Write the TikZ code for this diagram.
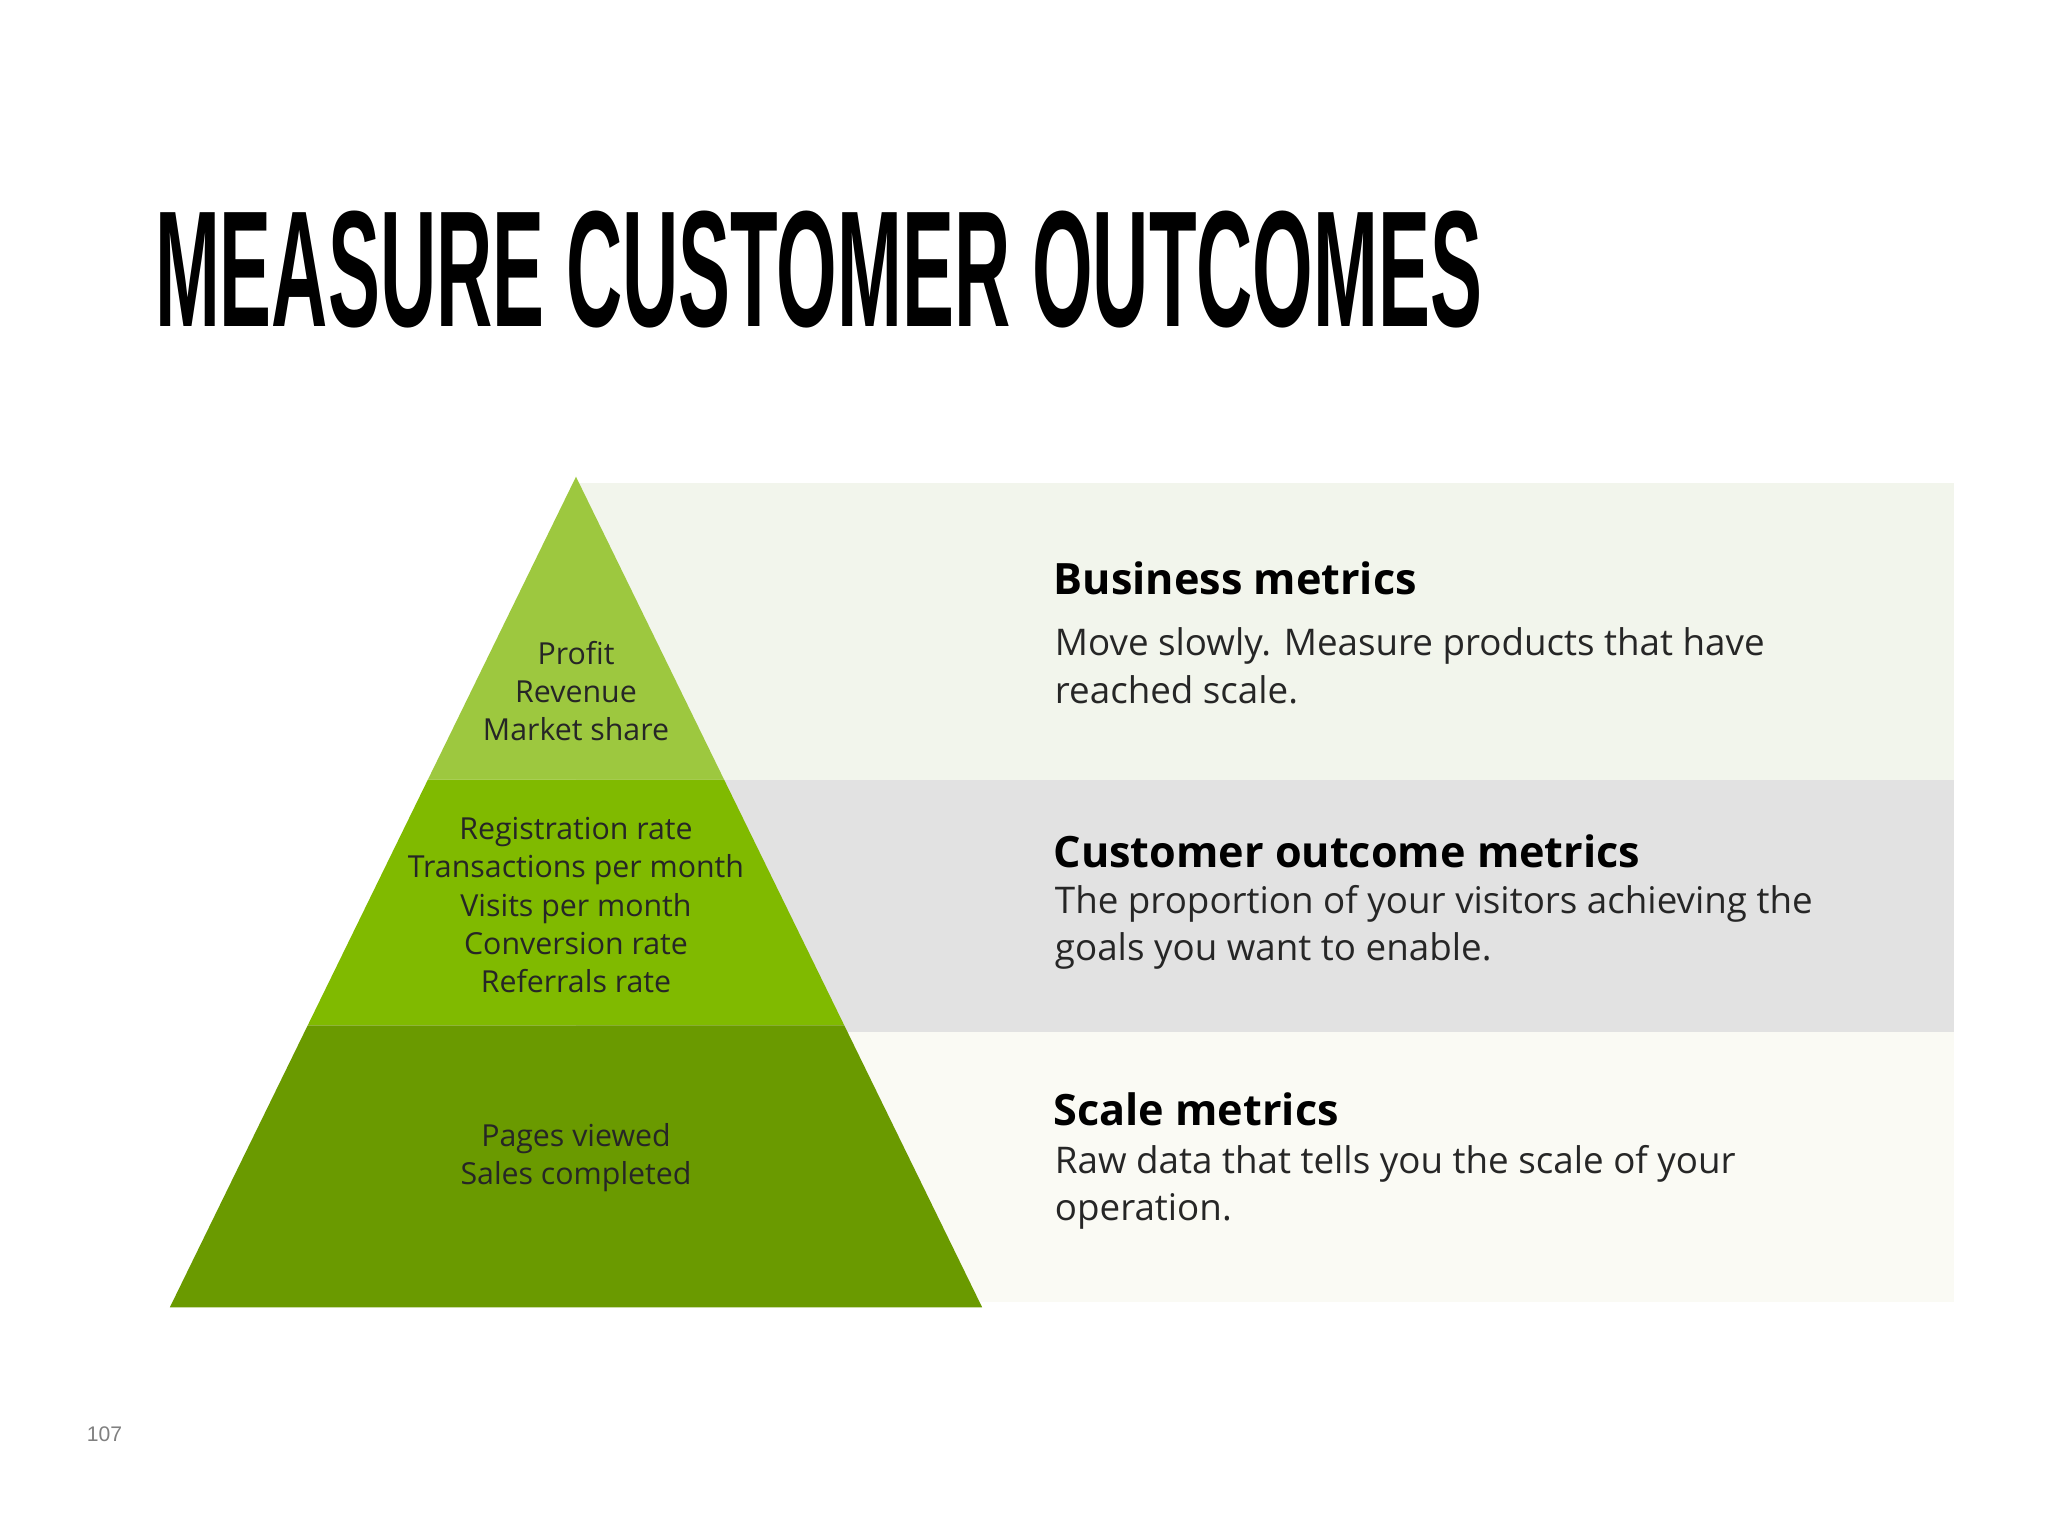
\documentclass[tikz,border=0pt]{standalone}
\usepackage{fontspec}
\usepackage{graphicx}
\usetikzlibrary{calc}
\setmainfont{Open Sans}
\newfontfamily\titlefont{Liberation Sans}
\definecolor{gtop}{HTML}{9DC83F}
\definecolor{gmid}{HTML}{80BA00}
\definecolor{gbot}{HTML}{6A9A00}
\definecolor{bandA}{HTML}{F2F5EC}
\definecolor{bandB}{HTML}{E2E2E2}
\definecolor{bandC}{HTML}{FAFAF4}
\tikzset{
  pyr/.style={font=\fontsize{6.6}{8.3}\selectfont, align=center, text=black!85},
  head/.style={font=\fontsize{9.4}{11}\selectfont\bfseries, anchor=base west, inner sep=0},
  body/.style={font=\fontsize{8}{10.3}\selectfont, anchor=north west, align=left, inner sep=0, text=black!85}
}
\begin{document}
\begin{tikzpicture}[x=0.01cm,y=-0.01cm]
\useasboundingbox (0,0) rectangle (1568,1176);
\fill[white] (0,0) rectangle (1568,1176);
\node[anchor=base west, inner sep=0] (title) at (118,250)
  {\resizebox*{289pt}{25.5pt}{\titlefont\bfseries MEASURE CUSTOMER OUTCOMES}};
% bands
\fill[bandA] (441,370) rectangle (1496,597);
\fill[bandB] (441,597) rectangle (1496,790);
\fill[bandC] (441,790) rectangle (1496,997);
% pyramid
\coordinate (apex) at (441,365);
\coordinate (bl) at (130,1001);
\coordinate (br) at (752,1001);
\fill[gtop] (apex) -- ($(apex)!{232/636}!(bl)$) coordinate (l1) -- ($(apex)!{232/636}!(br)$) coordinate (r1) -- cycle;
\fill[gmid] (l1) -- ($(apex)!{420/636}!(bl)$) coordinate (l2) -- ($(apex)!{420/636}!(br)$) coordinate (r2) -- (r1) -- cycle;
\fill[gbot] (l2) -- (bl) -- (br) -- (r2) -- cycle;
\node[pyr] (t1) at (441,529) {Profit\\Revenue\\Market share};
\node[pyr] (t2) at (441,693) {Registration rate\\Transactions per month\\Visits per month\\Conversion rate\\Referrals rate};
\node[pyr] (t3) at (441,886) {Pages viewed\\Sales completed};
% texts
\node[head] (h1) at (806,455) {Business metrics};
\node[body] (b1) at (807,480) {Move slowly. Measure products that have\\reached scale.};
\node[head] (h2) at (806,664) {Customer outcome metrics};
\node[body] (b2) at (807,677) {The proportion of your visitors achieving the\\goals you want to enable.};
\node[head] (h3) at (806,862) {Scale metrics};
\node[body] (b3) at (807,876) {Raw data that tells you the scale of your\\operation.};
\node[font=\fontsize{4.6}{5}\selectfont\titlefont, text=black!50, inner sep=0] (pg) at (80,1098) {107};
\end{tikzpicture}
\end{document}
